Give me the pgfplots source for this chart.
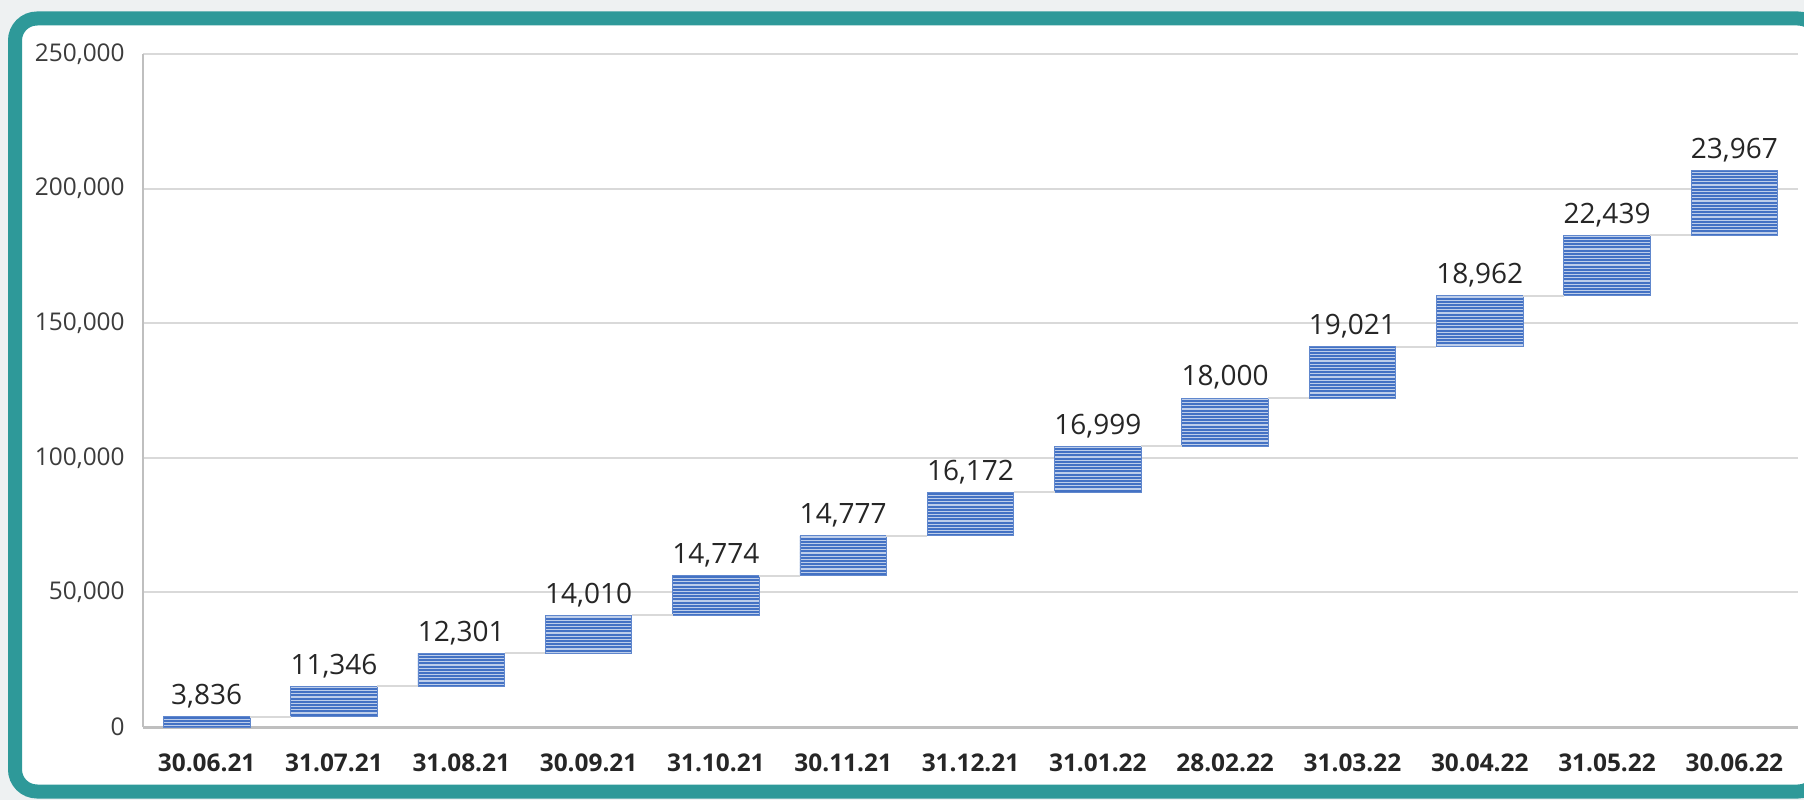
\documentclass[border=0pt]{standalone}
\usepackage{fontspec}
\setmainfont{Open Sans}
\usepackage{pgfplots}
\pgfplotsset{compat=1.18}
\usepackage{pgfplotstable}
\usetikzlibrary{patterns}
\definecolor{teal1}{RGB}{46,153,153}
\definecolor{barblue}{RGB}{68,114,196}
\definecolor{gridc}{RGB}{217,217,217}
\definecolor{axisc}{RGB}{191,191,191}
\definecolor{txt}{RGB}{38,38,38}
\definecolor{bgc}{RGB}{238,241,242}

\pgfdeclarepatternformonly{hstripes}{\pgfpoint{-1pt}{-0.1pt}}{\pgfpoint{61pt}{1.7pt}}{\pgfpoint{60pt}{1.6pt}}{%
  \pgfpathrectangle{\pgfpoint{-1pt}{0pt}}{\pgfpoint{62pt}{0.6pt}}%
  \pgfusepath{fill}%
}

\pgfplotstableread{
x base inc top
0 0 3836 3836
1 3836 11346 15182
2 15182 12301 27483
3 27483 14010 41493
4 41493 14774 56267
5 56267 14777 71044
6 71044 16172 87216
7 87216 16999 104215
8 104215 18000 122215
9 122215 19021 141236
10 141236 18962 160198
11 160198 22439 182637
12 182637 23967 206604
}\wfdata

\begin{document}
\begin{tikzpicture}
\begin{scope}
\clip (0,0) rectangle (902pt,400pt);
\fill[bgc] (0,0) rectangle (902pt,400pt);
\draw[teal1, line width=7pt, fill=white, rounded corners=11pt] (7.5pt,4.25pt) rectangle (910pt,390.75pt);
\end{scope}
\begin{axis}[
  at={(71.5pt,36.5pt)}, anchor=south west,
  scale only axis, width=827.5pt, height=336.5pt,
  xmin=-0.5, xmax=12.5, ymin=0, ymax=250000,
  axis x line*=bottom, axis y line*=left,
  x axis line style={axisc, line width=1.5pt},
  y axis line style={axisc, line width=1.2pt},
  ymajorgrids, grid style={gridc, line width=1pt},
  major tick length=0pt,
  xtick={0,1,...,12},
  xticklabels={30.06.21,31.07.21,31.08.21,30.09.21,31.10.21,30.11.21,31.12.21,31.01.22,28.02.22,31.03.22,30.04.22,31.05.22,30.06.22},
  ytick={0,50000,100000,150000,200000,250000},
  scaled y ticks=false,
  /pgf/number format/assume math mode=true,
  /pgf/number format/.cd, fixed, precision=0, 1000 sep={,}, /pgfplots/.cd,
  yticklabel style={anchor=east, inner sep=0pt, xshift=-9pt, text=txt!90, font=\fontsize{12.2}{14}\selectfont},
  xticklabel style={anchor=center, inner sep=0pt, yshift=-18pt, text=txt, font=\fontsize{12.2}{14}\selectfont\bfseries},
  clip=false,
]
\addplot[ybar stacked, bar width=0.68, stack plots=y, draw=none, fill=none, forget plot] table[x=x, y=base] {\wfdata};
\addplot[ybar stacked, bar width=0.68, stack plots=y, draw=barblue!85!white, line width=0.4pt, fill=barblue,
  postaction={pattern=hstripes, pattern color=barblue!35!white},
  forget plot] table[x=x, y=inc] {\wfdata};
\addplot[stack plots=false, sharp plot, draw=gridc, line width=1pt, unbounded coords=jump, forget plot] coordinates {
(0.34,3836) (0.66,3836) (0.5,nan)
(1.34,15182) (1.66,15182) (1.5,nan)
(2.34,27483) (2.66,27483) (2.5,nan)
(3.34,41493) (3.66,41493) (3.5,nan)
(4.34,56267) (4.66,56267) (4.5,nan)
(5.34,71044) (5.66,71044) (5.5,nan)
(6.34,87216) (6.66,87216) (6.5,nan)
(7.34,104215) (7.66,104215) (7.5,nan)
(8.34,122215) (8.66,122215) (8.5,nan)
(9.34,141236) (9.66,141236) (9.5,nan)
(10.34,160198) (10.66,160198) (10.5,nan)
(11.34,182637) (11.66,182637)
};
\addplot[stack plots=false, only marks, mark=none, draw=none,
  nodes near coords, point meta=explicit,
  every node near coord/.style={anchor=south, inner sep=0pt, yshift=4pt, text=txt, font=\fontsize{14}{16}\selectfont},
  forget plot] table[x=x, y=top, meta=inc] {\wfdata};
\end{axis}
\pgfresetboundingbox
\useasboundingbox (0,0) rectangle (902pt,400pt);
\end{tikzpicture}
\end{document}
